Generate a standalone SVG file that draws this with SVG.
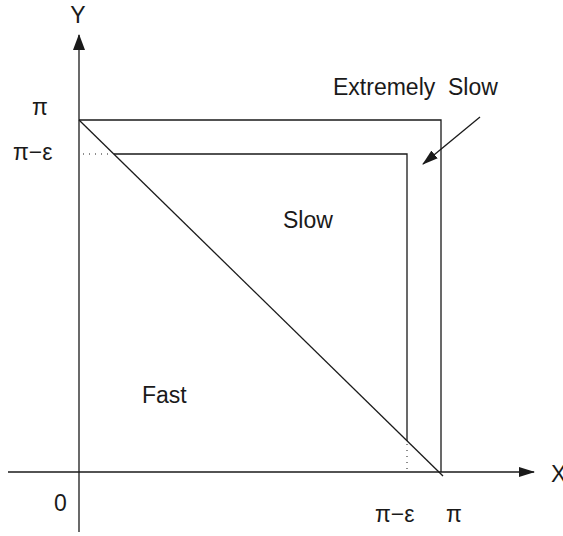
<svg xmlns="http://www.w3.org/2000/svg" width="563" height="536" viewBox="0 0 563 536">
<style>
.ln{stroke:#1a1a1a;stroke-width:1.3;fill:none}
.dot{stroke:#1a1a1a;stroke-width:1;stroke-dasharray:1 5;fill:none}
text{font-family:"Liberation Sans",Arial,sans-serif;font-size:23px;fill:#1a1a1a}
</style>
<defs>
<marker id="ah" markerWidth="16" markerHeight="12" refX="15" refY="6" orient="auto" markerUnits="userSpaceOnUse">
<path d="M0,0 L16,6 L0,12 z" fill="#1a1a1a"/>
</marker>
<marker id="ah2" markerWidth="16" markerHeight="10" refX="15" refY="5" orient="auto" markerUnits="userSpaceOnUse">
<path d="M0,0 L16,5 L0,10 z" fill="#1a1a1a"/>
</marker>
</defs>
<g id="connectors">
<line class="ln" x1="79" y1="532" x2="79" y2="35" marker-end="url(#ah)"/>
<line class="ln" x1="8" y1="472" x2="534" y2="472" marker-end="url(#ah2)"/>
<line class="ln" x1="480" y1="117" x2="423" y2="164" marker-end="url(#ah2)"/>
</g>
<g id="outer-square">
<polyline class="ln" points="79,120 441,120 441,472"/>
</g>
<g id="inner-square">
<polyline class="ln" points="114,154 407,154 407,441"/>
</g>
<g id="diagonal">
<line class="ln" x1="79" y1="120" x2="443" y2="476"/>
</g>
<g id="guides">
<line class="dot" x1="83" y1="154" x2="113" y2="154"/>
<line class="dot" x1="407" y1="444" x2="407" y2="472"/>
</g>
<g id="labels">
<text x="78" y="23" text-anchor="middle">Y</text>
<text x="551" y="482">X</text>
<text x="32" y="115">π</text>
<text x="13" y="160">π−ε</text>
<text x="54" y="511">0</text>
<text x="375" y="522">π−ε</text>
<text x="446" y="522">π</text>
<text x="333" y="95" xml:space="preserve">Extremely  Slow</text>
<text x="283" y="228">Slow</text>
<text x="142" y="403">Fast</text>
</g>
</svg>
